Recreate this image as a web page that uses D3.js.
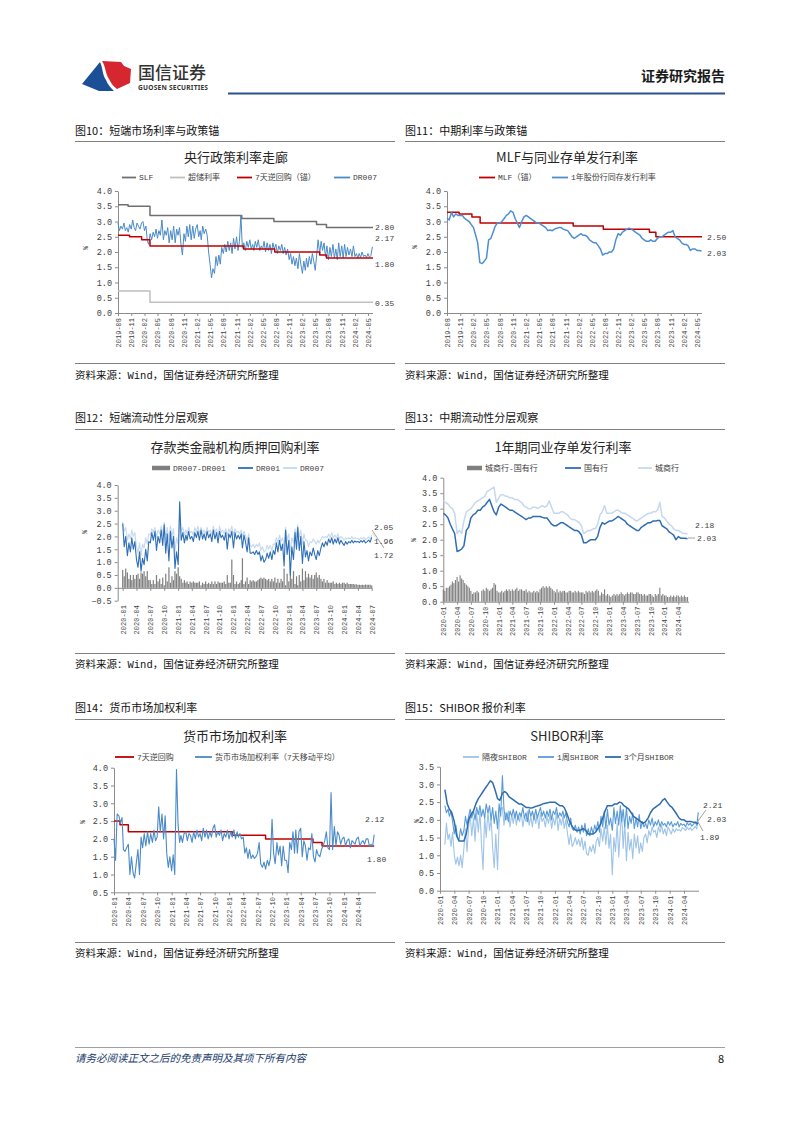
<!DOCTYPE html>
<html><head><meta charset="utf-8">
<script src="https://cdn.jsdelivr.net/npm/d3@7"></script>
<style>html,body{margin:0;padding:0;background:#fff;}svg{display:block;}</style>
</head><body>
<svg id="page" width="802" height="1133"></svg>
<script>
// ================= DATA =================
// ---- Fig 10 ----
const f10XTicks = ["2019-08","2019-11","2020-02","2020-05","2020-08","2020-11","2021-02","2021-05","2021-08","2021-11","2022-02","2022-05","2022-08","2022-11","2023-02","2023-05","2023-08","2023-11","2024-02","2024-05"];
const f10YTicks = [0,0.5,1,1.5,2,2.5,3,3.5,4];
const f10SlfDates = ["2019-08-01","2019-10-10","2020-03-10","2021-12-07","2022-07-18","2023-05-10","2023-07-18","2024-06-05"];
const f10SlfValues = [3.55,3.50,3.20,3.10,3.00,2.90,2.80,2.80];
const f10ExcessDates = ["2019-08-01","2020-03-10","2024-06-05"];
const f10ExcessValues = [0.72,0.35,0.35];
const f10RepoDates = ["2019-08-01","2019-10-20","2020-01-12","2020-03-10","2021-12-19","2022-07-24","2023-06-01","2023-07-18","2024-06-05"];
const f10RepoValues = [2.55,2.50,2.40,2.20,2.10,2.00,1.90,1.80,1.80];
const f10Dr007Start = "2019-08"; // 3 samples per month
const f10Dr007 = [2.95,2.70,2.85, 2.75,2.95,2.70, 2.80,2.65,2.90, 2.75,3.05,2.80, 2.70,2.95,2.85,
 2.75,2.95,3.00, 2.70,2.85,2.35, 2.25,2.60,2.40, 2.65,2.50,2.75, 2.45,2.70,2.55,
 3.05,2.40,2.70, 2.55,2.80,2.30, 2.70,2.40,2.85, 2.30,2.75,2.55, 2.80,2.25,1.90,
 2.60,2.35,2.85, 2.50,2.90,2.40, 2.85,2.45,2.75, 2.90,2.50,2.70, 2.40,2.85,2.60,
 2.75,2.55,2.00, 1.60,1.15,1.45, 1.30,1.85,1.55, 1.90,1.60,2.15, 1.95,2.25,2.00,
 2.35,2.05,2.30, 1.95,2.45,2.10, 2.50,2.05,2.35, 3.20,2.15,2.30, 2.05,2.35,2.15,
 2.40,2.10,2.25, 2.05,2.35,2.15, 2.40,2.05,2.20, 2.10,2.35,2.00, 2.30,2.05,2.25,
 1.95,2.30,2.10, 2.25,1.95,2.20, 2.05,2.25,1.95, 2.15,1.90,2.10, 1.75,1.95,1.60,
 1.85,1.55,1.80, 1.45,1.95,1.60, 1.30,1.70,1.40, 1.80,1.50,1.85, 1.60,1.95,1.70,
 1.40,1.90,2.40, 1.95,2.35,2.05, 2.30,1.85,2.20, 1.75,2.15,1.85, 2.25,1.80,2.10,
 1.75,2.30,1.85, 2.20,1.80,2.25, 1.85,2.15,1.90, 2.10,1.85,2.20, 1.85,1.95,1.80,
 1.95,1.82,2.00, 1.85,1.90,1.82, 1.95,1.83,1.88, 2.17];
const f10EndLabels = ["2.80","2.17","1.80","0.35"];

// ---- Fig 11 ----
const f11XTicks = f10XTicks;
const f11YTicks = [0,0.5,1,1.5,2,2.5,3,3.5,4];
const f11MlfDates = ["2019-08-01","2019-10-24","2020-01-21","2020-03-18","2021-12-24","2022-07-21","2023-06-06","2023-07-21","2024-06-05"];
const f11MlfValues = [3.30,3.25,3.15,2.95,2.85,2.75,2.65,2.50,2.50];
const f11NcdStart = "2019-08"; // 2 samples per month
const f11Ncd = [3.10,3.05, 3.30,3.15, 3.25,3.20, 3.20,3.20, 3.10,3.05, 3.00,2.90, 2.80,2.55, 2.30,1.65, 1.62,1.70, 1.80,2.40,
 2.45,2.65, 2.85,2.95, 2.95,3.00, 3.10,3.20, 3.25,3.35, 3.30,3.10, 2.95,2.80, 3.00,3.15, 3.20,3.15, 3.10,3.05,
 3.00,2.95, 2.95,2.90, 2.85,2.80, 2.70,2.72, 2.70,2.75, 2.78,2.80, 2.80,2.75, 2.72,2.70, 2.60,2.50, 2.45,2.50,
 2.55,2.60, 2.55,2.55, 2.50,2.40, 2.35,2.30, 2.30,2.20, 2.10,1.90, 1.95,1.95, 2.00,2.00, 2.10,2.40, 2.60,2.55,
 2.65,2.70, 2.75,2.78, 2.75,2.70, 2.65,2.60, 2.55,2.45, 2.40,2.35, 2.35,2.40, 2.35,2.35, 2.45,2.50, 2.50,2.55,
 2.60,2.65, 2.65,2.70, 2.50,2.45, 2.40,2.30, 2.25,2.25, 2.20,2.05, 2.10,2.10, 2.05,2.05, 2.03];
const f11EndLabels = ["2.50","2.03"];

// ---- Fig 12 ----
const f12XTicks = ["2020-01","2020-04","2020-07","2020-10","2021-01","2021-04","2021-07","2021-10","2022-01","2022-04","2022-07","2022-10","2023-01","2023-04","2023-07","2023-10","2024-01","2024-04","2024-07"];
const f12YTicks = [-0.5,0,0.5,1,1.5,2,2.5,3,3.5,4];
const f12Start = "2020-01"; // 3 samples per month
const f12Dr001 = [2.50,1.60,2.00, 1.25,1.75,1.40, 1.95,1.50,1.80, 1.10,0.80,1.40, 0.65,1.15,0.90, 1.50,1.05,1.80,
 1.75,2.15,1.85, 2.20,1.45,2.00, 1.75,2.25,1.65, 2.45,1.35,2.10, 1.05,2.20,1.55, 2.00,0.75,1.40,
 0.90,3.35,1.85, 2.15,1.75,2.05, 1.85,2.20,1.90, 2.00,1.80,2.15, 1.95,2.20,1.85, 2.25,1.90,2.10,
 1.85,2.20,1.95, 2.10,1.80,2.25, 1.90,2.15,1.75, 2.20,1.95,2.05, 1.85,2.15,1.50, 2.10,1.95,2.20,
 1.55,2.15,1.90, 2.05,1.90,2.10, 1.55,2.05,1.80, 1.40,1.95,1.35, 1.35,1.40,1.30, 1.45,1.30,1.40,
 1.05,1.25,1.00, 1.10,1.35,1.15, 1.40,1.10,1.45, 1.30,1.75,1.40, 1.85,1.45,1.70, 0.85,2.25,1.30,
 1.85,0.50,1.60, 1.10,2.15,1.50, 2.35,1.45,2.00, 0.95,1.80,1.20, 1.45,1.05,1.40, 1.25,1.55,1.30,
 1.10,1.45,1.25, 1.55,1.75,1.60, 1.80,1.65,1.90, 1.75,1.95,1.70, 1.90,1.75,1.95, 1.70,1.85,1.75,
 1.65,1.80,1.70, 1.80,1.75,1.85, 1.75,1.82,1.78, 1.80,1.76,1.84, 1.78,1.85,1.75, 1.80,1.86,1.78, 1.96];
const f12Dr007 = [2.55,2.20,2.35, 1.85,2.10,1.90, 2.25,2.00,2.15, 1.60,1.35,1.75, 1.25,1.70,1.55, 1.95,1.70,2.10,
 2.05,2.30,2.15, 2.35,1.95,2.25, 2.10,2.40,2.05, 2.55,1.90,2.35, 1.85,2.40,2.00, 2.30,1.40,1.95,
 1.70,2.90,2.20, 2.35,2.05,2.25, 2.10,2.35,2.15, 2.20,2.05,2.35, 2.15,2.40,2.10, 2.35,2.10,2.25,
 2.10,2.35,2.15, 2.25,2.05,2.40, 2.15,2.30,2.00, 2.40,2.15,2.25, 2.10,2.30,2.00, 2.30,2.15,2.40,
 2.05,2.30,2.15, 2.20,2.10,2.25, 2.00,2.20,2.05, 1.80,2.10,1.65, 1.60,1.70,1.55, 1.70,1.60,1.75,
 1.45,1.60,1.40, 1.45,1.65,1.50, 1.65,1.45,1.70, 1.70,1.95,1.75, 2.05,1.80,1.95, 1.60,2.35,1.85,
 2.10,1.40,1.95, 1.75,2.30,1.95, 2.45,1.95,2.25, 1.70,2.10,1.85, 1.85,1.60,1.80, 1.75,1.90,1.80,
 1.70,1.85,1.75, 1.90,2.00,1.95, 2.00,1.95,2.10, 1.95,2.15,1.95, 2.05,1.95,2.10, 1.90,2.00,1.95,
 1.85,1.95,1.90, 1.95,1.90,2.00, 1.90,1.95,1.92, 1.92,1.88,1.95, 1.90,1.96,1.88, 1.92,1.98,1.90, 2.05];
const f12Spread = [0.70,0.45,0.75, 0.60,0.35,0.50, 0.30,0.50,0.35, 0.50,0.55,0.35, 0.60,0.55,0.65, 0.45,0.65,0.30,
 0.30,0.15,0.30, 0.15,0.50,0.25, 0.35,0.15,0.40, 0.10,0.55,0.25, 0.80,0.20,0.45, 0.30,0.65,0.55,
 0.80,0.45,0.35, 0.20,0.30,0.20, 0.25,0.15,0.25, 0.20,0.25,0.20, 0.20,0.20,0.25, 0.10,0.20,0.15,
 0.25,0.15,0.20, 0.15,0.25,0.15, 0.25,0.15,0.25, 0.20,0.20,0.20, 0.25,0.15,0.50, 0.20,0.20,1.10,
 0.50,0.15,0.25, 0.15,0.20,0.30, 1.15,0.15,0.25, 0.40,0.15,0.30, 0.25,0.30,0.25, 0.25,0.30,0.35,
 0.40,0.35,0.40, 0.35,0.30,0.35, 0.25,0.35,0.25, 0.40,0.20,0.35, 0.20,0.35,0.25, 0.75,0.10,0.55,
 0.25,0.90,0.35, 0.65,0.15,0.45, 0.10,0.50,0.25, 0.75,0.30,0.65, 0.40,0.55,0.40, 0.50,0.35,0.50,
 0.60,0.40,0.50, 0.35,0.25,0.35, 0.20,0.30,0.20, 0.20,0.20,0.25, 0.15,0.20,0.15, 0.20,0.15,0.20,
 0.20,0.15,0.20, 0.15,0.15,0.15, 0.15,0.13,0.14, 0.12,0.12,0.11, 0.12,0.11,0.13, 0.12,0.12,0.12, 0.09];
const f12EndLabels = ["2.05","1.96","1.72"];

// ---- Fig 13 ----
const f13XTicks = ["2020-01","2020-04","2020-07","2020-10","2021-01","2021-04","2021-07","2021-10","2022-01","2022-04","2022-07","2022-10","2023-01","2023-04","2023-07","2023-10","2024-01","2024-04"];
const f13YTicks = [0,0.5,1,1.5,2,2.5,3,3.5,4];
const f13Start = "2020-01";
const f13StateBanks = [2.85,2.80, 2.70,2.50, 2.35,2.20, 1.62,1.65, 1.70,1.80, 2.30,2.40, 2.70,2.80, 2.85,2.95, 2.95,3.05, 3.10,3.20,
 3.30,3.10, 2.90,2.80, 3.05,3.15, 3.10,3.05, 3.00,2.95, 2.95,2.90, 2.85,2.80, 2.75,2.70, 2.65,2.70, 2.70,2.75,
 2.75,2.75, 2.75,2.72, 2.70,2.70, 2.60,2.50, 2.45,2.45, 2.50,2.55, 2.55,2.50, 2.45,2.40, 2.35,2.30, 2.30,2.25,
 2.15,1.90, 1.90,1.95, 2.00,2.00, 2.00,2.10, 2.40,2.55, 2.50,2.55, 2.60,2.60, 2.65,2.70, 2.75,2.70, 2.65,2.60,
 2.50,2.45, 2.40,2.35, 2.30,2.30, 2.40,2.45, 2.50,2.55, 2.55,2.60, 2.60,2.62, 2.62,2.45, 2.40,2.35, 2.25,2.20,
 2.15,2.00, 2.10,2.05, 2.05,2.05, 2.03];
const f13CityBanks = [3.25,3.20, 3.15,3.05, 3.00,2.85, 2.20,2.30, 2.20,2.60, 2.90,2.95, 3.00,3.10, 3.20,3.25, 3.30,3.35, 3.40,3.55,
 3.60,3.65, 3.70,3.20, 3.35,3.45, 3.45,3.40, 3.40,3.35, 3.35,3.30, 3.30,3.25, 3.20,3.10, 3.05,3.00, 3.00,3.05,
 3.05,3.00, 3.05,3.10, 3.05,3.10, 3.25,3.05, 2.85,2.85, 2.85,2.90, 2.90,2.85, 2.80,2.70, 2.65,2.65, 2.60,2.55,
 2.45,2.20, 2.25,2.30, 2.30,2.35, 2.35,2.50, 2.80,2.90, 3.10,2.85, 2.85,2.85, 2.90,2.95, 2.95,2.90, 2.85,2.85,
 2.80,2.75, 2.70,2.65, 2.60,2.65, 2.70,2.75, 2.80,2.85, 2.85,2.90, 2.90,2.95, 3.20,2.75, 2.70,2.60, 2.50,2.45,
 2.35,2.30, 2.30,2.25, 2.20,2.20, 2.18];
const f13Spread = [0.40,0.35,0.45, 0.45,0.50,0.55, 0.65,0.60,0.70, 0.80,0.65,0.85, 0.75,0.70,0.60, 0.55,0.50,0.45,
 0.35,0.25,0.30, 0.30,0.35,0.30, 0.00,0.35,0.40, 0.35,0.45,0.40, 0.35,0.40,0.45, 0.60,0.55,0.35,
 0.30,0.30,0.35, 0.30,0.35,0.40, 0.35,0.40,0.35, 0.40,0.35,0.40, 0.45,0.35,0.40, 0.40,0.35,0.35,
 0.40,0.30,0.35, 0.30,0.30,0.35, 0.30,0.35,0.30, 0.40,0.45,0.50, 0.45,0.50,0.45, 0.50,0.45,0.40,
 0.35,0.30,0.40, 0.30,0.35,0.30, 0.35,0.35,0.30, 0.30,0.35,0.35, 0.30,0.30,0.35, 0.30,0.35,0.30,
 0.30,0.30,0.25, 0.35,0.30,0.35, 0.30,0.35,0.30, 0.35,0.40,0.35, 0.20,0.30,0.25, 0.40,0.20,0.25,
 0.20,0.15,0.20, 0.25,0.20,0.25, 0.20,0.25,0.30, 0.25,0.20,0.25, 0.30,0.25,0.30, 0.30,0.25,0.25,
 0.30,0.30,0.25, 0.25,0.20,0.25, 0.20,0.20,0.25, 0.25,0.20,0.15, 0.25,0.20,0.25, 0.45,0.20,0.25,
 0.20,0.20,0.15, 0.15,0.20,0.15, 0.20,0.15,0.20, 0.20,0.15,0.20, 0.15,0.20,0.15, 0.15];
const f13EndLabels = ["2.18","2.03"];

// ---- Fig 14 ----
const f14XTicks = f13XTicks;
const f14YTicks = [0.5,1,1.5,2,2.5,3,3.5,4];
const f14RepoDates = ["2020-01-01","2020-02-08","2020-04-01","2022-01-21","2022-08-21","2023-06-18","2023-08-15","2024-07-11"];
const f14RepoValues = [2.50,2.40,2.20,2.10,2.00,1.90,1.80,1.80];
const f14Start = "2020-01";
const f14Weighted = [2.00,1.40,2.70, 2.65,2.45,2.60, 1.70,1.65,1.75, 1.85,1.00,1.50, 1.05,0.90,1.30, 1.70,1.00,2.05,
 1.75,2.15,1.80, 2.20,1.85,2.15, 1.90,2.25,1.95, 2.05,2.90,2.20, 2.70,2.00,2.65, 1.60,1.20,1.50,
 1.10,1.55,1.00, 3.95,2.40,1.90, 2.10,1.90,2.15, 2.20,1.95,2.15, 2.10,1.90,2.20, 2.00,2.25,2.05,
 2.15,1.95,2.30, 2.05,2.25,2.00, 2.20,2.05,2.30, 2.40,2.05,2.20, 2.10,2.25,1.95, 2.15,2.05,2.25,
 2.00,2.20,2.05, 2.25,2.00,2.20, 2.05,2.15,2.00, 2.05,1.60,1.75, 1.45,1.70,1.45, 1.55,1.45,1.50,
 1.60,1.90,1.30, 1.20,1.35,1.15, 1.40,1.25,1.45, 2.55,1.60,1.30, 1.90,1.55,1.80, 1.25,1.80,1.40,
 1.40,1.05,1.90, 1.70,2.20,1.60, 2.25,1.60,2.20, 2.30,1.50,1.95, 1.80,1.40,1.75, 1.70,2.15,1.50,
 1.35,1.70,1.55, 1.50,1.70,1.80, 1.95,2.20,1.75, 1.70,3.30,1.70, 2.35,1.80,2.20, 2.10,1.85,2.00,
 2.05,1.80,1.95, 2.00,1.75,1.95, 1.90,1.85,2.00, 2.05,1.80,1.90, 1.95,1.85,2.00, 2.00,1.80,1.85, 1.80,2.12];
const f14EndLabels = ["2.12","1.80"];

// ---- Fig 15 ----
const f15XTicks = f13XTicks;
const f15YTicks = [0,0.5,1,1.5,2,2.5,3,3.5];
const f15Start = "2020-02";
const f15Overnight = [1.30,1.90,1.45, 1.60,1.25,1.65, 1.00,0.75,0.95, 0.70,1.00,0.65, 1.20,1.75,1.10, 1.80,2.15,1.55,
 2.05,1.40,2.20, 1.65,2.25,1.30, 0.60,2.10,1.50, 2.25,1.70,2.05, 1.20,0.65,1.60, 0.60,1.90,2.30,
 2.35,1.85,2.20, 2.00,2.25,1.80, 2.15,1.90,2.20, 1.85,2.15,1.95, 2.20,1.80,2.10, 1.95,2.25,1.85,
 2.10,1.80,2.20, 1.90,2.15,1.75, 2.20,1.95,2.05, 1.80,2.10,1.90, 2.15,1.75,2.05, 1.85,2.20,1.70,
 2.05,1.85,2.10, 1.75,2.00,1.65, 1.30,1.60,1.25, 1.35,1.50,1.30, 1.45,1.25,1.50, 1.15,1.40,1.05,
 1.00,1.25,1.10, 1.30,1.05,1.40, 1.50,1.25,1.75, 1.40,1.80,1.30, 1.85,1.20,1.60, 0.45,1.50,1.10,
 1.90,0.95,1.70, 2.25,1.20,1.90, 0.85,1.65,1.15, 1.45,0.90,1.60, 1.20,1.55,1.05, 1.35,1.10,1.50,
 1.60,1.35,1.70, 1.55,1.80,1.65, 1.70,1.50,1.80, 1.65,1.85,1.60, 1.75,1.55,1.80, 1.70,1.60,1.75,
 1.65,1.75,1.70, 1.72,1.68,1.78, 1.75,1.70,1.80, 1.72,1.78,1.70, 1.75,1.82,1.74, 2.03];
const f15OneWeek = [2.40,2.20,2.30, 2.10,2.25,1.95, 1.60,1.85,1.50, 1.45,1.75,1.55, 1.70,2.10,1.85, 2.10,2.30,2.05,
 2.25,2.00,2.35, 2.15,2.40,2.10, 2.30,2.05,2.45, 2.20,2.40,2.00, 2.35,1.90,2.25, 1.75,2.45,2.10,
 3.25,2.30,2.00, 2.20,1.95,2.25, 2.10,2.30,2.05, 2.25,2.00,2.20, 2.10,2.35,2.05, 2.20,1.95,2.30,
 2.10,2.25,2.00, 2.30,2.05,2.20, 2.35,2.10,2.25, 2.05,2.25,2.10, 2.30,2.00,2.25, 2.15,2.35,2.05,
 2.20,2.10,2.25, 2.05,2.20,1.95, 1.80,2.05,1.75, 1.70,1.85,1.65, 1.80,1.60,1.85, 1.65,1.90,1.55,
 1.75,1.55,1.80, 1.60,1.85,1.70, 1.95,1.65,2.10, 1.80,2.25,1.75, 2.30,1.85,2.05, 1.70,2.35,1.90,
 2.25,1.85,2.40, 1.95,2.30,1.80, 2.35,1.75,2.10, 1.90,2.20,1.75, 2.05,1.80,2.15, 1.75,1.95,1.80,
 1.90,1.75,2.00, 1.85,2.05,1.80, 1.95,1.85,2.00, 1.80,1.95,1.85, 1.90,1.80,1.95, 1.85,1.95,1.80,
 1.90,1.85,1.95, 1.80,1.90,1.85, 1.88,1.80,1.92, 1.85,1.90,1.82, 1.88,1.95,1.85, 2.21];
const f15ThreeMonth = [2.85,2.45, 2.30,2.20, 1.95,1.55, 1.40,1.40, 1.40,1.60, 2.00,2.15, 2.25,2.45, 2.60,2.70, 2.80,2.90, 3.00,3.10,
 3.05,2.85, 2.60,2.55, 2.75,2.80, 2.75,2.65, 2.60,2.55, 2.50,2.45, 2.45,2.40, 2.35,2.35, 2.33,2.35, 2.38,2.40,
 2.42,2.45, 2.47,2.48, 2.50,2.50, 2.50,2.45, 2.40,2.40, 2.35,2.20, 2.00,1.85, 1.75,1.70, 1.70,1.72, 1.75,1.70,
 1.60,1.60, 1.60,1.65, 1.75,1.85, 2.05,2.25, 2.40,2.40, 2.40,2.45, 2.45,2.50, 2.48,2.40, 2.35,2.30, 2.20,2.10,
 2.05,2.00, 1.95,1.90, 1.95,2.05, 2.20,2.30, 2.35,2.40, 2.45,2.55, 2.60,2.50, 2.40,2.35, 2.25,2.15, 2.05,2.00,
 2.00,1.95, 1.95,1.95, 1.93,1.92, 1.89];
const f15EndLabels = ["2.21","2.03","1.89"];

// ================= HELPERS =================
const parseD = d3.timeParse("%Y-%m-%d");
const parseM = d3.timeParse("%Y-%m");
const MONO = "'Liberation Mono','Noto Sans CJK SC',monospace";
const SANS = "'Noto Sans CJK SC','Noto Sans',sans-serif";
function sampled(start, perMonth, values) {
  const s = parseM(start);
  const offs = perMonth === 3 ? [0, 10, 20] : [0, 15];
  return values.map((v, i) => ({date: d3.timeDay.offset(d3.timeMonth.offset(s, Math.floor(i / perMonth)), offs[i % perMonth]), value: v}));
}
function stepped(dates, values) { return dates.map((d, i) => ({date: parseD(d), value: values[i]})); }

const svg = d3.select("#page");

// ================= HEADER / FOOTER =================
svg.append("path").attr("d", "M82,84 L100,62 C103,68 102,74 106,80 C108,85 111,88 114,91 L99,91 Z").attr("fill", "#1d4f96");
svg.append("path").attr("d", "M102,61 L121,62 L124,66 L131,69 L130,83 L117,89 C113,86 111,83 109,79 C105,73 106,67 102,61 Z").attr("fill", "#d6262f");
svg.append("text").attr("x", 138).attr("y", 79).attr("font-family", SANS).attr("font-size", 17).attr("font-weight", 500).attr("fill", "#333").text("国信证券");
svg.append("text").attr("x", 138).attr("y", 89.5).attr("font-family", "'Noto Sans',sans-serif").attr("font-size", 6.6).attr("font-weight", 700).attr("fill", "#333").attr("textLength", 70).text("GUOSEN SECURITIES");
svg.append("text").attr("x", 725).attr("y", 81).attr("text-anchor", "end").attr("font-family", SANS).attr("font-size", 14).attr("font-weight", 700).attr("fill", "#1a1a1a").text("证券研究报告");
svg.append("line").attr("x1", 228).attr("x2", 725).attr("y1", 93.5).attr("y2", 93.5).attr("stroke", "#2c5191").attr("stroke-width", 2);
svg.append("line").attr("x1", 75).attr("x2", 725).attr("y1", 1047.5).attr("y2", 1047.5).attr("stroke", "#a0a0a0").attr("stroke-width", 1);
svg.append("text").attr("x", 75).attr("y", 1062).attr("font-family", SANS).attr("font-size", 10.5).attr("font-style", "italic").attr("fill", "#203a6b").text("请务必阅读正文之后的免责声明及其项下所有内容");
svg.append("text").attr("x", 724).attr("y", 1063).attr("text-anchor", "end").attr("font-family", SANS).attr("font-size", 11).attr("fill", "#111").text("8");

// ================= LAYOUT =================
const rows = [
  {fig: 131, sep: 141.5, title: 157.5, legend: 177.5, srcSep: 363.5, src: 375.5},
  {fig: 418, sep: 429.5, title: 447, legend: 468, srcSep: 653.5, src: 664.5},
  {fig: 708, sep: 719.5, title: 736, legend: 757, srcSep: 942.5, src: 953.5}
];
const cols = [{x0: 75, x1: 395}, {x0: 405, x1: 725}];

function drawPanel(p) {
  const row = rows[p.row], col = cols[p.col];
  const g = svg.append("g");
  g.append("text").attr("x", col.x0).attr("y", row.fig).attr("dy", "0.35em").attr("font-family", SANS).attr("font-size", 11).attr("fill", "#111").text(p.figTitle);
  [row.sep, row.srcSep].forEach(yy => g.append("line").attr("x1", col.x0).attr("x2", col.x1).attr("y1", yy).attr("y2", yy).attr("stroke", "#808080").attr("stroke-width", 1));
  g.append("text").attr("x", col.x0).attr("y", row.src).attr("dy", "0.35em").attr("font-family", MONO).attr("font-size", 10.5).attr("fill", "#111").text("资料来源：Wind，国信证券经济研究所整理");
  g.append("text").attr("x", p.titleX).attr("y", row.title).attr("dy", "0.35em").attr("text-anchor", "middle").attr("font-family", SANS).attr("font-size", 13).attr("fill", "#262626").text(p.chartTitle);

  // legend
  p.legend.forEach(it => {
    g.append("line").attr("x1", it.x1).attr("x2", it.x2).attr("y1", row.legend).attr("y2", row.legend)
      .attr("stroke", it.color).attr("stroke-width", it.bar ? 4.5 : 1.8);
    g.append("text").attr("x", it.x2 + 3).attr("y", row.legend).attr("dy", "0.35em").attr("font-family", MONO).attr("font-size", 8).attr("fill", "#404040").text(it.label);
  });

  const x = d3.scaleTime().domain(p.xDomain.map(parseD)).range(p.xRange);
  const y = d3.scaleLinear().domain(p.yDomain).range(p.yRange);

  // y axis
  const ya = g.append("g").attr("transform", `translate(${p.axisX},0)`).attr("color", "#8c8c8c")
    .call(d3.axisLeft(y).tickValues(p.yTicks).tickSize(3).tickSizeOuter(0).tickPadding(3).tickFormat(d3.format(".1f")));
  ya.selectAll("text").attr("font-family", MONO).attr("font-size", 8.5).attr("fill", "#404040");
  g.append("text").attr("transform", `translate(${p.pct[0]},${p.pct[1]}) rotate(-90)`).attr("text-anchor", "middle").attr("dy", "0.35em")
    .attr("font-family", MONO).attr("font-size", 6.5).attr("fill", "#404040").text("%");

  // x axis
  const axisY = y(p.xAxisAt);
  const xa = g.append("g").attr("transform", `translate(0,${axisY})`).attr("color", "#8c8c8c")
    .call(d3.axisBottom(x).tickValues(p.xTicks.map(parseM)).tickSize(3).tickSizeOuter(0).tickFormat(d3.timeFormat("%Y-%m")));
  xa.select(".domain").remove();
  xa.append("line").attr("x1", p.axisX).attr("x2", p.xAxisEnd).attr("y1", 0.5).attr("y2", 0.5).attr("stroke", "#8c8c8c");
  const off = p.labelTop - axisY;
  xa.selectAll(".tick text").attr("transform", "rotate(-90)").attr("text-anchor", "end").attr("x", -off).attr("y", 0).attr("dy", "0.35em")
    .attr("font-family", MONO).attr("font-size", 7).attr("fill", "#404040");

  // marks
  p.series.forEach(s => {
    if (s.bar) {
      g.append("g").selectAll("rect").data(s.data).join("rect")
        .attr("x", d => x(d.date) - s.barW / 2).attr("width", s.barW)
        .attr("y", d => y(Math.max(0, d.value))).attr("height", d => Math.abs(y(d.value) - y(0)))
        .attr("fill", s.color);
    } else {
      const line = d3.line().x(d => x(d.date)).y(d => y(d.value)).curve(s.step ? d3.curveStepAfter : d3.curveLinear);
      g.append("path").datum(s.data).attr("d", line).attr("fill", "none").attr("stroke", s.color).attr("stroke-width", s.w).attr("stroke-linejoin", "round");
    }
  });

  (p.leaders || []).forEach(l => g.append("line").attr("x1", l[0]).attr("y1", l[1]).attr("x2", l[2]).attr("y2", l[3]).attr("stroke", l[4] || "#8c8c8c").attr("stroke-width", 0.8));
  p.labels.forEach(l => g.append("text").attr("x", l.x).attr("y", l.y).attr("dy", "0.35em").attr("font-family", MONO).attr("font-size", 8).attr("fill", "#404040").text(l.text));
}

const BLUE = "#4a8ac8";
// Fig 10
drawPanel({
  row: 0, col: 0, figTitle: "图10：短端市场利率与政策锚", chartTitle: "央行政策利率走廊", titleX: 236,
  legend: [
    {x1: 122, x2: 136, color: "#6f6f6f", label: "SLF"},
    {x1: 170, x2: 185, color: "#bfbfbf", label: "超储利率"},
    {x1: 237, x2: 252, color: "#c00000", label: "7天逆回购（锚）"},
    {x1: 334, x2: 350, color: BLUE, label: "DR007"}
  ],
  xDomain: ["2019-08-01", "2024-06-05"], xRange: [118, 373], yDomain: [0, 4], yRange: [313, 191],
  yTicks: f10YTicks, xTicks: f10XTicks, axisX: 118, xAxisAt: 0, xAxisEnd: 373, labelTop: 318, pct: [86, 248],
  series: [
    {data: stepped(f10ExcessDates, f10ExcessValues), color: "#bfbfbf", w: 1.5, step: true},
    {data: stepped(f10SlfDates, f10SlfValues), color: "#6f6f6f", w: 1.5, step: true},
    {data: sampled(f10Dr007Start, 3, f10Dr007), color: BLUE, w: 1},
    {data: stepped(f10RepoDates, f10RepoValues), color: "#c00000", w: 1.5, step: true}
  ],
  labels: [{text: f10EndLabels[0], x: 375, y: 227}, {text: f10EndLabels[1], x: 375, y: 238}, {text: f10EndLabels[2], x: 375, y: 264}, {text: f10EndLabels[3], x: 375, y: 303}]
});
// Fig 11
drawPanel({
  row: 0, col: 1, figTitle: "图11：中期利率与政策锚", chartTitle: "MLF与同业存单发行利率", titleX: 567,
  legend: [
    {x1: 479, x2: 495, color: "#c00000", label: "MLF（锚）"},
    {x1: 552, x2: 568, color: "#4f8fcf", label: "1年股份行同存发行利率"}
  ],
  xDomain: ["2019-08-01", "2024-06-05"], xRange: [447, 702], yDomain: [0, 4], yRange: [313, 191],
  yTicks: f11YTicks, xTicks: f11XTicks, axisX: 447, xAxisAt: 0, xAxisEnd: 702, labelTop: 318, pct: [415, 247],
  series: [
    {data: stepped(f11MlfDates, f11MlfValues), color: "#c00000", w: 1.5, step: true},
    {data: sampled(f11NcdStart, 2, f11Ncd), color: "#4f8fcf", w: 1.5}
  ],
  labels: [{text: f11EndLabels[0], x: 707, y: 237}, {text: f11EndLabels[1], x: 707, y: 253}]
});
// Fig 12
drawPanel({
  row: 1, col: 0, figTitle: "图12：短端流动性分层观察", chartTitle: "存款类金融机构质押回购利率", titleX: 235,
  legend: [
    {x1: 152, x2: 170, color: "#7f7f7f", label: "DR007-DR001", bar: true},
    {x1: 238, x2: 253, color: "#2e6fb7", label: "DR001"},
    {x1: 283, x2: 297, color: "#c6d9ee", label: "DR007"}
  ],
  xDomain: ["2020-01-01", "2024-07-01"], xRange: [122.7, 371.7], yDomain: [-0.5, 4], yRange: [600.7, 485],
  yTicks: f12YTicks, xTicks: f12XTicks, axisX: 117.7, xAxisAt: 0, xAxisEnd: 372, labelTop: 605, pct: [85, 532],
  series: [
    {data: sampled(f12Start, 3, f12Spread), color: "#7f7f7f", bar: true, barW: 1.2},
    {data: sampled(f12Start, 3, f12Dr007), color: "#c6d9ee", w: 1.1},
    {data: sampled(f12Start, 3, f12Dr001), color: "#2e6fb7", w: 1.1}
  ],
  leaders: [[372, 530, 384, 548], [372, 533, 379, 541, "#c6d9ee"]],
  labels: [{text: f12EndLabels[0], x: 374, y: 527}, {text: f12EndLabels[1], x: 374, y: 541}, {text: f12EndLabels[2], x: 374, y: 555}]
});
// Fig 13
drawPanel({
  row: 1, col: 1, figTitle: "图13：中期流动性分层观察", chartTitle: "1年期同业存单发行利率", titleX: 563,
  legend: [
    {x1: 467, x2: 482, color: "#7f7f7f", label: "城商行-国有行", bar: true},
    {x1: 565, x2: 581, color: "#2f6db3", label: "国有行"},
    {x1: 638, x2: 652, color: "#c5d8ee", label: "城商行"}
  ],
  xDomain: ["2020-01-01", "2024-04-01"], xRange: [443.3, 678.3], yDomain: [0, 4], yRange: [601.7, 477.7],
  yTicks: f13YTicks, xTicks: f13XTicks, axisX: 443.3, xAxisAt: 0, xAxisEnd: 689, labelTop: 606.5, pct: [414, 540],
  series: [
    {data: sampled(f13Start, 3, f13Spread), color: "#808080", bar: true, barW: 1.1},
    {data: sampled(f13Start, 2, f13CityBanks), color: "#c5d8ee", w: 1.5},
    {data: sampled(f13Start, 2, f13StateBanks), color: "#2f6db3", w: 1.5}
  ],
  leaders: [[688, 538, 695, 538]],
  labels: [{text: f13EndLabels[0], x: 695, y: 525}, {text: f13EndLabels[1], x: 697, y: 538}]
});
// Fig 14
drawPanel({
  row: 2, col: 0, figTitle: "图14：货币市场加权利率", chartTitle: "货币市场加权利率", titleX: 235,
  legend: [
    {x1: 115, x2: 134, color: "#c00000", label: "7天逆回购"},
    {x1: 195, x2: 212, color: BLUE, label: "货币市场加权利率（7天移动平均）"}
  ],
  xDomain: ["2020-01-01", "2024-04-01"], xRange: [114, 358.3], yDomain: [0.5, 4], yRange: [892.3, 767.7],
  yTicks: f14YTicks, xTicks: f14XTicks, axisX: 114, xAxisAt: 0.5, xAxisEnd: 376, labelTop: 897, pct: [83, 822],
  series: [
    {data: stepped(f14RepoDates, f14RepoValues), color: "#c00000", w: 1.5, step: true},
    {data: sampled(f14Start, 3, f14Weighted), color: BLUE, w: 1.1}
  ],
  labels: [{text: f14EndLabels[0], x: 365, y: 819}, {text: f14EndLabels[1], x: 367, y: 859}]
});
// Fig 15
drawPanel({
  row: 2, col: 1, figTitle: "图15：SHIBOR 报价利率", chartTitle: "SHIBOR利率", titleX: 567,
  legend: [
    {x1: 463, x2: 479, color: "#9ec4e8", label: "隔夜SHIBOR"},
    {x1: 538, x2: 554, color: "#5b9bd5", label: "1周SHIBOR"},
    {x1: 605, x2: 621, color: "#2e6cad", label: "3个月SHIBOR"}
  ],
  xDomain: ["2020-01-01", "2024-04-01"], xRange: [440, 684], yDomain: [0, 3.5], yRange: [890.7, 766.7],
  yTicks: f15YTicks, xTicks: f15XTicks, axisX: 440, xAxisAt: 0, xAxisEnd: 699, labelTop: 895.5, pct: [417, 821],
  series: [
    {data: sampled(f15Start, 3, f15Overnight), color: "#9ec4e8", w: 1.1},
    {data: sampled(f15Start, 3, f15OneWeek), color: "#5b9bd5", w: 1.1},
    {data: sampled(f15Start, 2, f15ThreeMonth), color: "#2e6cad", w: 1.5}
  ],
  leaders: [[698, 821, 706, 810], [698, 822, 703, 831]],
  labels: [{text: f15EndLabels[0], x: 703, y: 805}, {text: f15EndLabels[1], x: 707, y: 819}, {text: f15EndLabels[2], x: 700, y: 837}]
});
</script>
</body></html>
